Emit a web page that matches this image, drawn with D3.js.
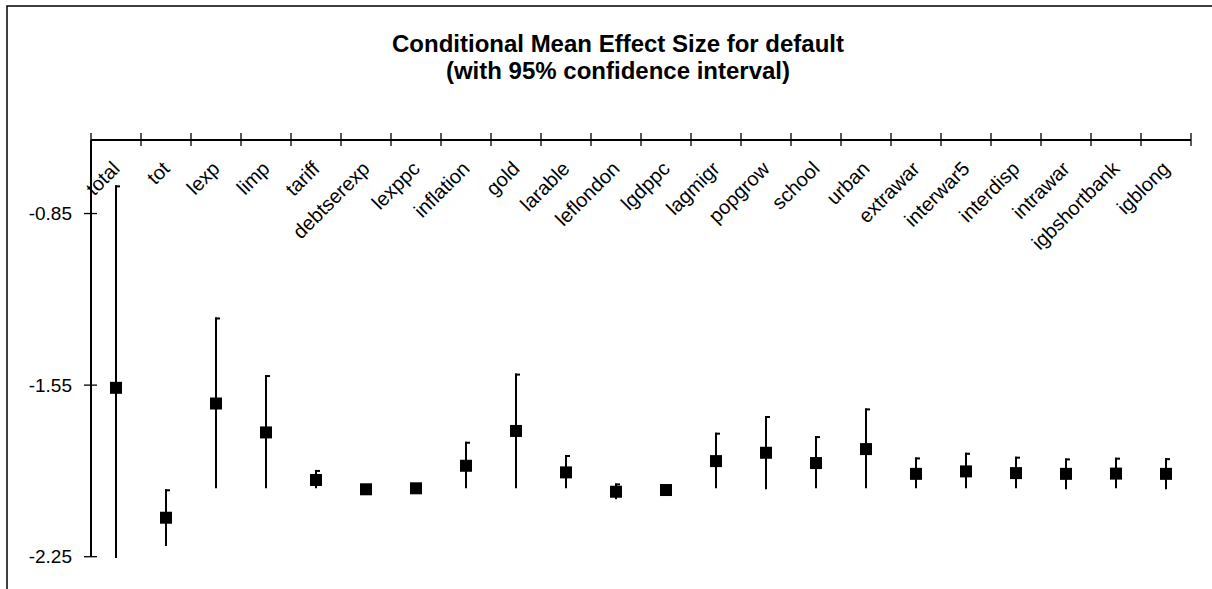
<!DOCTYPE html>
<html>
<head>
<meta charset="utf-8">
<script src="https://cdn.jsdelivr.net/npm/d3@7"></script>
<style>
  html, body { margin: 0; padding: 0; background: #fff; }
  svg { display: block; }
  text { font-family: "Liberation Sans", Arial, sans-serif; fill: #000; }
</style>
</head>
<body>
<svg id="chart" width="1212" height="589"></svg>
<script>
// ---- Data ----
const categories = ["total","tot","lexp","limp","tariff","debtserexp","lexppc","inflation","gold","larable","leflondon","lgdppc","lagmigr","popgrow","school","urban","extrawar","interwar5","interdisp","intrawar","igbshortbank","igblong"];
const meanValues = [-1.561,-2.091,-1.625,-1.743,-1.937,-1.975,-1.971,-1.879,-1.737,-1.906,-1.985,-1.978,-1.860,-1.826,-1.868,-1.811,-1.912,-1.902,-1.909,-1.912,-1.911,-1.912];
const upperValues = [-0.735,-1.975,-1.274,-1.509,-1.896,-1.975,-1.971,-1.781,-1.503,-1.835,-1.951,-1.978,-1.744,-1.676,-1.758,-1.645,-1.845,-1.826,-1.842,-1.849,-1.846,-1.848];
const lowerValues = [-2.255,-2.206,-1.971,-1.971,-1.971,-1.975,-1.971,-1.971,-1.971,-1.971,-2.016,-1.978,-1.971,-1.975,-1.971,-1.971,-1.971,-1.971,-1.971,-1.975,-1.971,-1.975];
const yTickValues = [-0.85, -1.55, -2.25];
const yTickLabels = ["-0.85", "-1.55", "-2.25"];
const yDomain = [-2.25, -0.55];
const titleLines = ["Conditional Mean Effect Size for default", "(with 95% confidence interval)"];

// ---- Layout ----
const svg = d3.select("#chart");
const pLeft = 91, pRight = 1191, pTop = 140, pBottom = 556.7;

// frame
svg.append("rect").attr("x", 7).attr("y", 6).attr("width", 1230).attr("height", 620)
  .attr("fill", "none").attr("stroke", "#000").attr("stroke-width", 1.5);

// title
const title = svg.append("text").attr("text-anchor", "middle")
  .style("font-weight", "bold").style("font-size", "24px");
titleLines.forEach((t, i) => {
  title.append("tspan").attr("x", 618).attr("y", 52 + i * 27).text(t);
});

const x = d3.scaleBand().domain(categories).range([pLeft, pRight]).padding(0);
const y = d3.scaleLinear().domain(yDomain).range([pBottom, pTop]);

// x axis (top), cross ticks at band edges
const xg = svg.append("g");
xg.append("line").attr("x1", pLeft).attr("x2", pRight).attr("y1", pTop).attr("y2", pTop)
  .attr("stroke", "#000").attr("stroke-width", 2);
const edges = categories.map(c => x(c)).concat([pRight]);
xg.selectAll("line.tick").data(edges).enter().append("line").attr("class", "tick")
  .attr("x1", d => d).attr("x2", d => d).attr("y1", pTop - 7).attr("y2", pTop + 6)
  .attr("stroke", "#000").attr("stroke-width", 1.3);
xg.selectAll("text").data(categories).enter().append("text")
  .attr("text-anchor", "end")
  .attr("dy", "0.35em")
  .style("font-size", "20px")
  .attr("transform", d => `translate(${x(d) + x.bandwidth() / 2},${pTop + 25}) rotate(-45)`)
  .text(d => d);

// y axis (left)
const yg = svg.append("g");
yg.append("line").attr("x1", pLeft).attr("x2", pLeft).attr("y1", pTop).attr("y2", y(-2.25))
  .attr("stroke", "#000").attr("stroke-width", 2);
yg.selectAll("line.tick").data(yTickValues).enter().append("line").attr("class", "tick")
  .attr("x1", pLeft - 7).attr("x2", pLeft + 6).attr("y1", d => y(d)).attr("y2", d => y(d))
  .attr("stroke", "#000").attr("stroke-width", 1.3);
yg.selectAll("text").data(yTickValues).enter().append("text")
  .attr("x", 72).attr("y", d => y(d)).attr("dy", "0.35em")
  .attr("text-anchor", "end").style("font-size", "19px")
  .text((d, i) => yTickLabels[i]);

// error bars + markers
const data = categories.map((c, i) => ({ c, m: meanValues[i], hi: upperValues[i], lo: lowerValues[i] }));
const cx = d => x(d.c) + x.bandwidth() / 2;
const g = svg.append("g");
g.selectAll("line.bar").data(data).enter().append("line").attr("class", "bar")
  .attr("x1", cx).attr("x2", cx).attr("y1", d => y(d.hi)).attr("y2", d => y(d.lo))
  .attr("stroke", "#000").attr("stroke-width", 2);
g.selectAll("line.cap").data(data).enter().append("line").attr("class", "cap")
  .attr("x1", d => cx(d) - 1).attr("x2", d => cx(d) + 4).attr("y1", d => y(d.hi) + 1).attr("y2", d => y(d.hi) + 1)
  .attr("stroke", "#000").attr("stroke-width", 2);
g.selectAll("rect.pt").data(data).enter().append("rect").attr("class", "pt")
  .attr("x", d => cx(d) - 6).attr("y", d => y(d.m) - 6).attr("width", 12).attr("height", 12)
  .attr("fill", "#000");
</script>
</body>
</html>
